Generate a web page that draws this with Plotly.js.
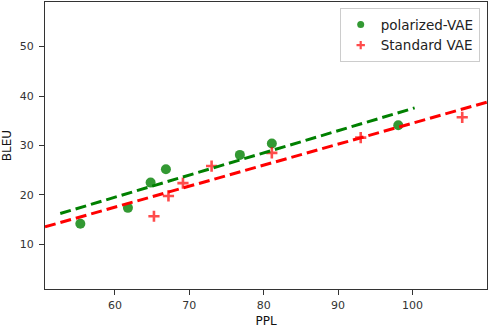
<!DOCTYPE html>
<html><head><meta charset="utf-8">
<script src="https://cdn.plot.ly/plotly-3.0.1.min.js"></script>
<style>html,body{margin:0;padding:0;background:#fff}#c{width:488px;height:328px}</style>
</head><body><div id="c"></div>
<script>
const polPPL  = [55.35, 61.75, 64.8, 66.86, 76.8, 81.1, 98.1];
const polBLEU = [14.2, 17.4, 22.5, 25.2, 28.1, 30.4, 34.1];
const stdPPL  = [65.25, 67.2, 69.15, 73.0, 81.1, 93.05, 106.7];
const stdBLEU = [15.7, 19.8, 22.4, 25.85, 28.5, 31.6, 35.7];
const polFitPPL  = [52.65, 100.3];
const polFitBLEU = [16.25, 37.6];
const stdFitPPL  = [50.6, 110.0];
const stdFitBLEU = [13.55, 38.75];
const xTicks = [60, 70, 80, 90, 100];
const yTicks = [10, 20, 30, 40, 50];
const seriesNames = ['polarized-VAE', 'Standard VAE'];

const font = 'DejaVu Sans, sans-serif';
const green = 'rgba(0,128,0,0.8)';
const red = 'rgba(255,0,0,0.7)';
const traces = [
  {x: polPPL, y: polBLEU, mode: 'markers', type: 'scatter', showlegend: false,
   marker: {symbol: 'circle', size: 10, color: green, line: {width: 0}}},
  {x: stdPPL, y: stdBLEU, mode: 'markers', type: 'scatter', showlegend: false,
   marker: {symbol: 'cross-thin', size: 8, color: red, line: {width: 2.6, color: red}}},
  {x: polFitPPL, y: polFitBLEU, mode: 'lines', type: 'scatter', showlegend: false,
   line: {color: 'rgb(0,128,0)', width: 3, dash: '11px,5px'}},
  {x: stdFitPPL, y: stdFitBLEU, mode: 'lines', type: 'scatter', showlegend: false,
   line: {color: 'rgb(255,0,0)', width: 3, dash: '11px,5px'}},
  // legend entries (smaller legend symbols, as in the reference)
  {x: [null], y: [null], mode: 'markers', type: 'scatter', name: seriesNames[0],
   marker: {symbol: 'circle', size: 7, color: green, line: {width: 0}}},
  {x: [null], y: [null], mode: 'markers', type: 'scatter', name: seriesNames[1],
   marker: {symbol: 'cross-thin', size: 6, color: red, line: {width: 2.2, color: red}}}
];
const axisCommon = {
  showgrid: false, zeroline: false, showline: true, mirror: true,
  linecolor: '#333', linewidth: 1, ticks: 'outside', ticklen: 5, tickwidth: 1, tickcolor: '#333',
  tickfont: {family: font, size: 11, color: '#333'}
};
const layout = {
  width: 488, height: 328,
  margin: {l: 45, r: 1, t: 2, b: 39},
  paper_bgcolor: '#fff', plot_bgcolor: '#fff',
  showlegend: true,
  xaxis: Object.assign({}, axisCommon, {range: [50.6, 110.03], tickvals: xTicks, ticklabelstandoff: 1,
    title: {text: 'PPL', font: {family: font, size: 12, color: '#111'}, standoff: 8}}),
  yaxis: Object.assign({}, axisCommon, {range: [1.0, 59.0], tickvals: yTicks, ticklabelstandoff: 3,
    title: {text: 'BLEU', font: {family: font, size: 12, color: '#111'}, standoff: 9}}),
  legend: {x: 0.9835, xanchor: 'right', y: 0.978, yanchor: 'top',
    bgcolor: 'rgba(255,255,255,0.8)', bordercolor: '#ccc', borderwidth: 1,
    font: {family: font, size: 13.5, color: '#222'}, tracegroupgap: 0}
};
Plotly.newPlot('c', traces, layout, {staticPlot: true, displayModeBar: false});
</script></body></html>
